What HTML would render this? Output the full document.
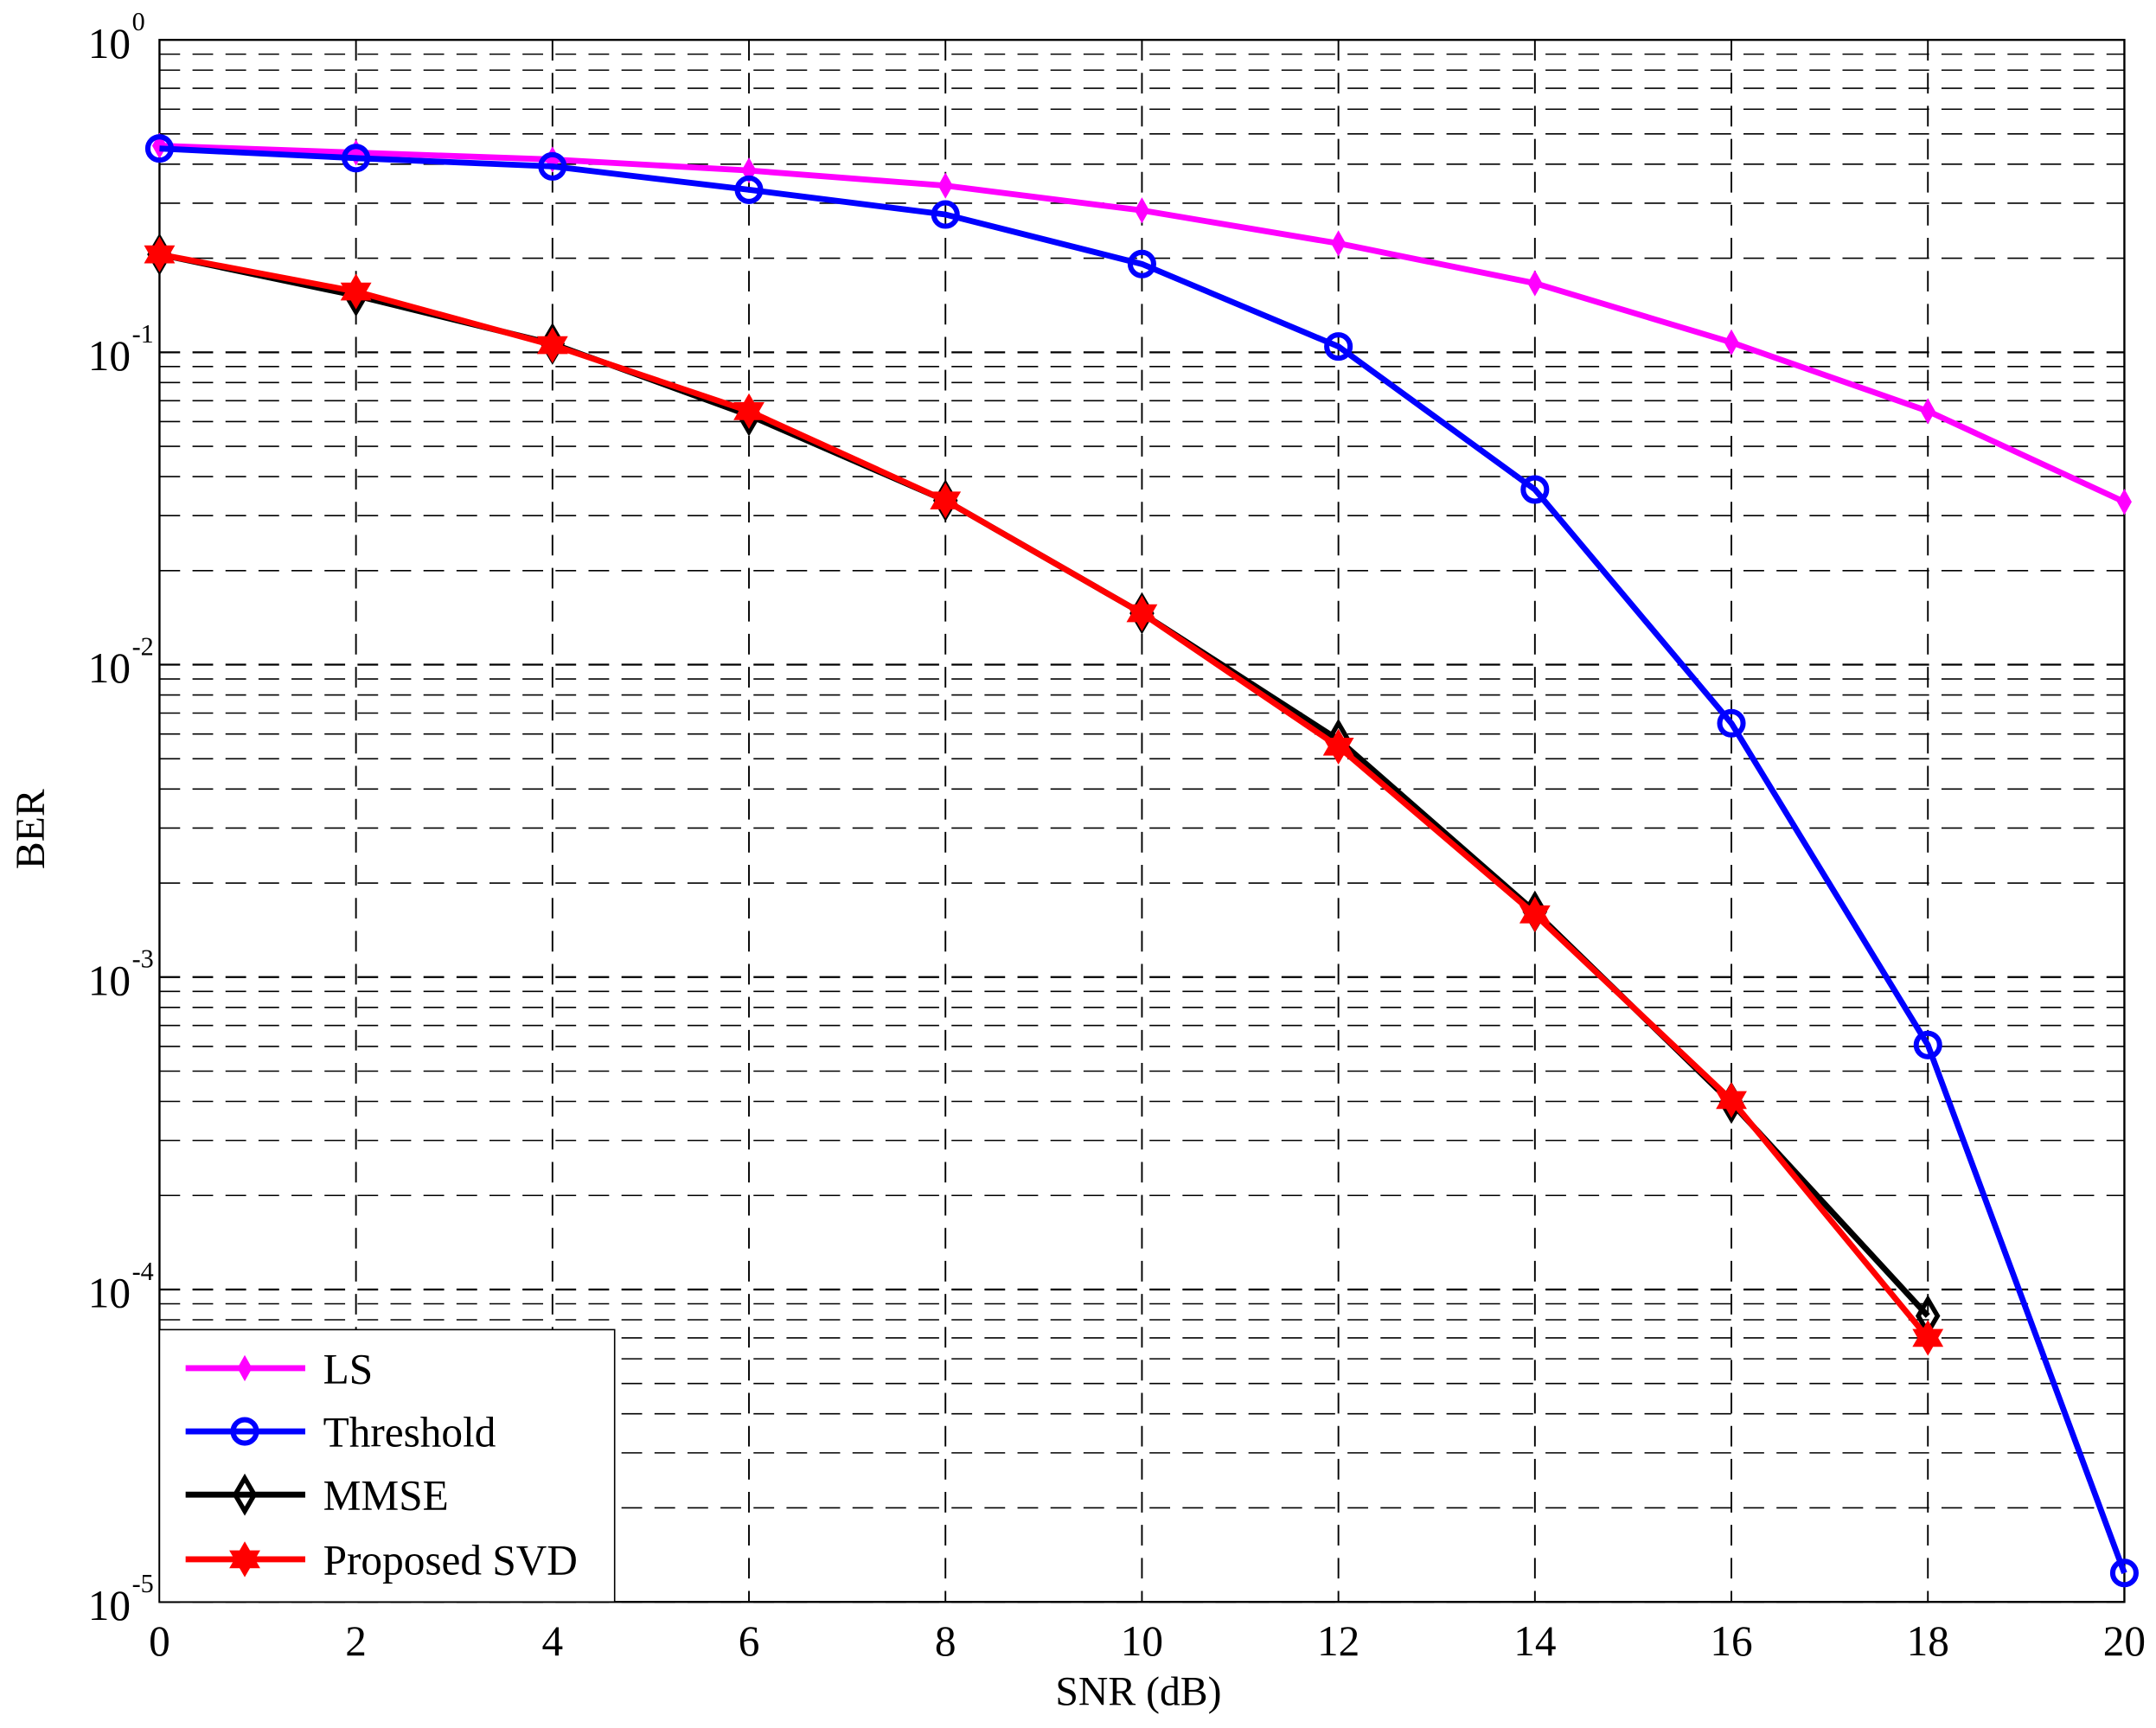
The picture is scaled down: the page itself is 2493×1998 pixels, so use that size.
<!DOCTYPE html>
<html><head><meta charset="utf-8"><style>
html,body{margin:0;padding:0;background:#fff;}
svg{display:block;}
text{font-family:"Liberation Serif",serif;fill:#000;}
</style></head><body>
<svg id="s" width="2493" height="1998" viewBox="0 0 1568 1256.7" preserveAspectRatio="none" xmlns="http://www.w3.org/2000/svg"></svg>
<script>
var X0=116,X1=1545,Y0=29,Y1=1165,DEC=(Y1-Y0)/5,XS=(X1-X0)/10;
var o='<rect x="0" y="0" width="1568" height="1257" fill="#fff"/>';
function xp(v){return X0+v/2*XS;}
for(var d=0;d<5;d++){for(var m=1;m<10;m++){var y=Y0+DEC*(d+1)-Math.log10(m)*DEC;
 o+='<line x1="'+X0+'" x2="'+X1+'" y1="'+y+'" y2="'+y+'" stroke="#000" stroke-width="'+(m==1?1.4:1.0)+'" stroke-dasharray="15,9"/>';}}
for(var i=1;i<10;i++){var x=X0+i*XS;o+='<line x1="'+x+'" x2="'+x+'" y1="'+Y0+'" y2="'+Y1+'" stroke="#000" stroke-width="1.2" stroke-dasharray="15,9"/>';}
o+='<rect x="'+X0+'" y="'+Y0+'" width="'+(X1-X0)+'" height="'+(Y1-Y0)+'" fill="none" stroke="#000" stroke-width="1.5"/>';
for(var i=0;i<=10;i++){o+='<text x="'+xp(2*i)+'" y="1204" font-size="31" text-anchor="middle">'+(2*i)+'</text>';}
for(var d=0;d<=5;d++){var y=Y0+DEC*d;o+='<text x="95" y="'+(y+13)+'" font-size="31" text-anchor="end">10</text><text x="96" y="'+(y-7)+'" font-size="19">'+(d==0?'0':'-'+d)+'</text>';}
o+='<text x="828" y="1240" font-size="30" text-anchor="middle">SNR (dB)</text>';
o+='<text transform="translate(32,603) rotate(-90)" font-size="30" text-anchor="middle">BER</text>';
var S=[
 {c:'#ff00ff',m:'sd',y:[106,111,116,124,135,153,177,206,249,299,365]},
 {c:'#0000ff',m:'o',y:[108,115,121,138,156,192,252,356,526,760,1144]},
 {c:'#000',m:'d',y:[185,215,250,302,364,446,538,663,802,957]},
 {c:'#ff0000',m:'h',y:[185,212,251,299,364,446,543,665,800,973]}];
function mk(t,c,x,y){
 if(t=='sd')return '<polygon points="'+x+','+(y-8)+' '+(x+4.5)+','+y+' '+x+','+(y+8)+' '+(x-4.5)+','+y+'" fill="'+c+'" stroke="'+c+'" stroke-width="1.5"/>';
 if(t=='o')return '<circle cx="'+x+'" cy="'+y+'" r="8.5" fill="none" stroke="'+c+'" stroke-width="3.8"/>';
 if(t=='d')return '<polygon points="'+x+','+(y-12)+' '+(x+7)+','+y+' '+x+','+(y+12)+' '+(x-7)+','+y+'" fill="none" stroke="'+c+'" stroke-width="3.4"/>';
 var r=13,p1='',p2='';for(var k=0;k<3;k++){var a=-Math.PI/2+k*2*Math.PI/3;p1+=(x+r*Math.cos(a))+','+(y+r*Math.sin(a))+' ';a+=Math.PI;p2+=(x+r*Math.cos(a))+','+(y+r*Math.sin(a))+' ';}
 return '<polygon points="'+p1+'" fill="'+c+'"/><polygon points="'+p2+'" fill="'+c+'"/>';
}
S.forEach(function(s){var p=s.y.map(function(y,i){return xp(2*i)+','+y;}).join(' ');
 o+='<polyline points="'+p+'" fill="none" stroke="'+s.c+'" stroke-width="4.3" stroke-linejoin="round"/>';
 s.y.forEach(function(y,i){o+=mk(s.m,s.c,xp(2*i),y);});});
o+='<rect x="'+X0+'" y="967" width="331" height="'+(Y1-967)+'" fill="#fff" stroke="#000" stroke-width="1"/>';
var L=['LS','Threshold','MMSE','Proposed SVD'],LY=[995,1041,1087,1134];
S.forEach(function(s,i){o+='<line x1="135" x2="222" y1="'+LY[i]+'" y2="'+LY[i]+'" stroke="'+s.c+'" stroke-width="4.3"/>'+mk(s.m,s.c,178,LY[i])+'<text x="235" y="'+(LY[i]+11)+'" font-size="31">'+L[i]+'</text>';});
document.getElementById('s').innerHTML=o;
</script>
</body></html>
